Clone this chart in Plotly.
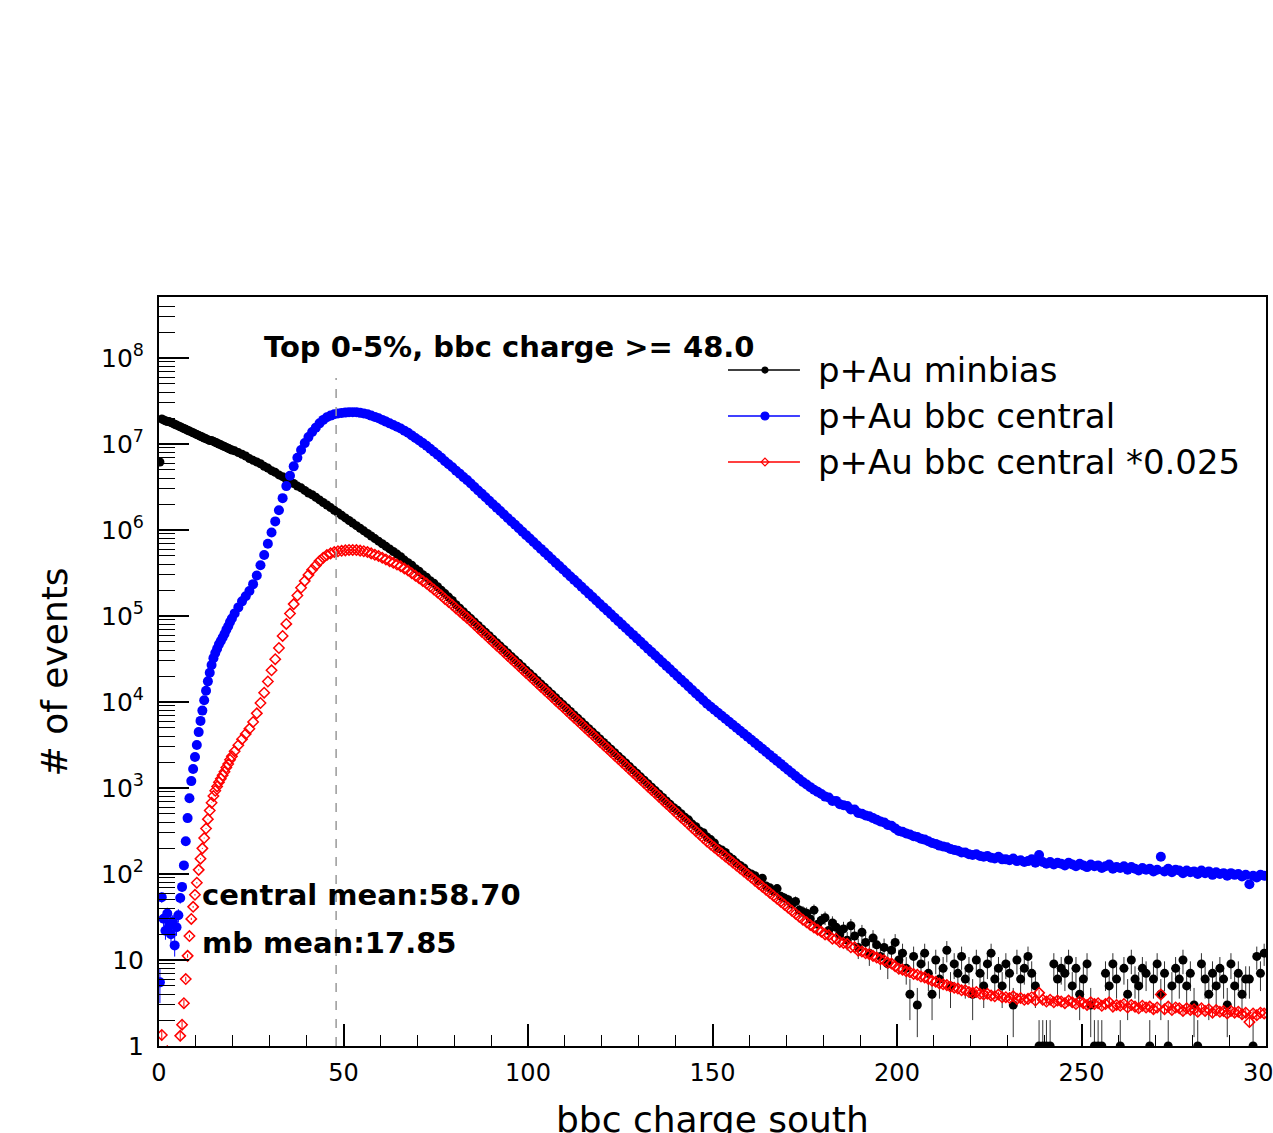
import numpy as np
import plotly.graph_objects as go

# ---------------- data ----------------
# bin centres: 0.5-wide bins below 20, 1-wide bins above
x_fine = np.arange(0.25, 20.0, 0.5)
x_coarse = np.arange(20.5, 300.0, 1.0)
bins = np.concatenate([x_fine, x_coarse])

# p+Au bbc central, log10(# of events) per bin
central_log10 = [
    0.74, 1.73, 1.48, 1.34, 1.54, 1.40, 1.30, 1.45, 1.17, 1.38,
    1.52, 1.72, 1.85, 2.10, 2.38, 2.65, 2.88, 3.08, 3.22, 3.36,
    3.50, 3.65, 3.78, 3.90, 4.02, 4.13, 4.24, 4.34, 4.43, 4.51,
    4.57, 4.62, 4.67, 4.71, 4.75, 4.79, 4.84, 4.88, 4.93, 4.97,
    5.03, 5.10, 5.17, 5.23, 5.29, 5.37, 5.47, 5.59, 5.71, 5.84,
    5.97, 6.10, 6.23, 6.37, 6.51, 6.63, 6.74, 6.84, 6.93, 7.01,
    7.08, 7.14, 7.19, 7.24, 7.28, 7.31, 7.33, 7.345, 7.355, 7.36,
    7.365, 7.37, 7.37, 7.368, 7.362, 7.355, 7.345, 7.33, 7.315, 7.30,
    7.28, 7.26, 7.24, 7.22, 7.20, 7.18, 7.155, 7.13, 7.10, 7.07,
    7.04, 7.01, 6.98, 6.945, 6.91, 6.875, 6.84, 6.80, 6.765, 6.73,
    6.69, 6.655, 6.615, 6.58, 6.54, 6.50, 6.46, 6.42, 6.38, 6.34,
    6.30, 6.26, 6.22, 6.18, 6.14, 6.10, 6.06, 6.02, 5.98, 5.94,
    5.90, 5.86, 5.82, 5.78, 5.74, 5.70, 5.66, 5.62, 5.58, 5.54,
    5.50, 5.46, 5.42, 5.38, 5.34, 5.30, 5.26, 5.22, 5.18, 5.14,
    5.10, 5.06, 5.02, 4.98, 4.94, 4.90, 4.86, 4.82, 4.78, 4.74,
    4.70, 4.66, 4.62, 4.58, 4.54, 4.50, 4.46, 4.42, 4.38, 4.34,
    4.30, 4.26, 4.22, 4.18, 4.14, 4.10, 4.06, 4.02, 3.98, 3.945,
    3.91, 3.875, 3.84, 3.805, 3.77, 3.735, 3.70, 3.665, 3.63, 3.595,
    3.56, 3.525, 3.49, 3.455, 3.42, 3.385, 3.35, 3.315, 3.28, 3.245,
    3.21, 3.175, 3.14, 3.105, 3.07, 3.04, 3.01, 2.98, 2.955, 2.93,
    2.90, 2.89, 2.85, 2.85, 2.81, 2.80, 2.79, 2.75, 2.75, 2.71,
    2.70, 2.68, 2.67, 2.65, 2.63, 2.61, 2.60, 2.57, 2.56, 2.53,
    2.50, 2.49, 2.47, 2.46, 2.44, 2.43, 2.41, 2.40, 2.38, 2.36,
    2.35, 2.33, 2.32, 2.31, 2.29, 2.28, 2.27, 2.25, 2.25, 2.23,
    2.22, 2.23, 2.21, 2.20, 2.21, 2.19, 2.18, 2.20, 2.17, 2.17,
    2.16, 2.18, 2.15, 2.16, 2.14, 2.15, 2.17, 2.13, 2.22, 2.14,
    2.12, 2.14, 2.11, 2.13, 2.12, 2.10, 2.13, 2.11, 2.09, 2.12,
    2.10, 2.08, 2.11, 2.09, 2.10, 2.07, 2.09, 2.11, 2.06, 2.08,
    2.07, 2.09, 2.05, 2.08, 2.06, 2.04, 2.07, 2.05, 2.06, 2.03,
    2.05, 2.20, 2.03, 2.06, 2.02, 2.05, 2.04, 2.01, 2.04, 2.02,
    2.03, 2.00, 2.04, 2.01, 2.03, 1.99, 2.02, 2.00, 2.01, 1.98,
    2.01, 1.99, 2.00, 1.97, 1.99, 1.88, 1.98, 1.96, 1.99, 1.98,
]

# p+Au minbias, log10(# of events) for bins 0.25 ... 174.5
minbias_log10_head = [
    6.79, 7.29, 7.28, 7.27, 7.26, 7.26, 7.25, 7.24, 7.23, 7.22,
    7.21, 7.20, 7.19, 7.18, 7.17, 7.16, 7.15, 7.14, 7.13, 7.12,
    7.11, 7.10, 7.09, 7.08, 7.07, 7.06, 7.05, 7.04, 7.04, 7.03,
    7.02, 7.01, 7.00, 6.99, 6.98, 6.97, 6.96, 6.95, 6.94, 6.93,
    6.92, 6.90, 6.88, 6.86, 6.83, 6.81, 6.79, 6.77, 6.74, 6.72,
    6.69, 6.67, 6.64, 6.62, 6.59, 6.56, 6.54, 6.51, 6.49, 6.46,
    6.43, 6.41, 6.38, 6.35, 6.32, 6.29, 6.26, 6.23, 6.20, 6.17,
    6.14, 6.11, 6.08, 6.05, 6.02, 5.99, 5.96, 5.93, 5.90, 5.87,
    5.84, 5.81, 5.78, 5.75, 5.72, 5.69, 5.65, 5.62, 5.59, 5.55,
    5.52, 5.48, 5.45, 5.41, 5.38, 5.34, 5.30, 5.26, 5.22, 5.18,
    5.13, 5.09, 5.05, 5.01, 4.97, 4.93, 4.89, 4.85, 4.81, 4.77,
    4.73, 4.69, 4.65, 4.61, 4.57, 4.53, 4.49, 4.45, 4.41, 4.37,
    4.33, 4.29, 4.25, 4.21, 4.17, 4.13, 4.09, 4.05, 4.01, 3.97,
    3.93, 3.89, 3.85, 3.81, 3.77, 3.73, 3.69, 3.65, 3.61, 3.57,
    3.53, 3.49, 3.45, 3.41, 3.37, 3.33, 3.29, 3.25, 3.21, 3.17,
    3.13, 3.09, 3.05, 3.01, 2.97, 2.93, 2.89, 2.85, 2.81, 2.77,
    2.74, 2.70, 2.66, 2.63, 2.58, 2.55, 2.50, 2.48, 2.43, 2.40,
    2.36, 2.30, 2.28, 2.25, 2.20, 2.17, 2.13, 2.10, 2.07, 2.02,
    2.00, 1.98, 1.92, 1.95, 1.86, 1.84, 1.80, 1.83, 1.74, 1.72,
    1.70, 1.65, 1.68, 1.58, 1.56,
]

# p+Au minbias, raw counts for bins 175.5 ... 299.5
minbias_tail_counts = [
    35, 30, 38, 26, 29, 31, 22, 27, 24, 20,
    23, 17, 25, 19, 14, 21, 16, 12, 18, 15,
    11, 14, 9, 13, 16, 10, 12, 8, 4, 11,
    3, 9, 12, 7, 4, 10, 6, 8, 13, 5,
    9, 7, 11, 6, 8, 4, 10, 7, 5, 9,
    12, 6, 8, 5, 9, 7, 3, 10, 6, 8,
    11, 7, 5, 1, 1, 1, 1, 9, 6, 8,
    7, 10, 5, 8, 4, 6, 9, 3, 1, 1,
    1, 7, 5, 9, 6, 1, 8, 4, 10, 6,
    5, 8, 7, 1, 6, 9, 4, 7, 1, 5,
    8, 6, 10, 5, 7, 3, 1, 9, 6, 4,
    7, 5, 8, 6, 3, 9, 5, 7, 4, 6,
    6, 1, 11, 7, 12,
]

central_scale = 0.025
cut_value = 48.0

y_tick_exponents = [0, 1, 2, 3, 4, 5, 6, 7, 8]
x_tick_values = [0, 50, 100, 150, 200, 250, 300]

legend_labels = ["p+Au minbias", "p+Au bbc central", "p+Au bbc central *0.025"]

# ---------------- derived arrays ----------------
central = 10 ** np.array(central_log10)
minbias = np.concatenate([10 ** np.array(minbias_log10_head),
                          np.array(minbias_tail_counts, dtype=float)])
scaled = central * central_scale

mb_err = np.sqrt(minbias)
ce_err = np.sqrt(central)
sc_err = ce_err * central_scale


def minus(v, e):
    return np.minimum(e, v * 0.999)


FONT = "DejaVu Sans"
fig = go.Figure()

fig.add_trace(go.Scatter(
    x=bins, y=minbias, mode="markers",
    marker=dict(symbol="circle", size=9, color="black"),
    error_y=dict(type="data", array=mb_err, arrayminus=minus(minbias, mb_err),
                 symmetric=False, thickness=1, width=0, color="#333333"),
    showlegend=False))

fig.add_trace(go.Scatter(
    x=bins, y=central, mode="markers",
    marker=dict(symbol="circle", size=10, color="#0000ff"),
    error_y=dict(type="data", array=ce_err, arrayminus=minus(central, ce_err),
                 symmetric=False, thickness=1, width=0, color="#0000ff"),
    showlegend=False))

fig.add_trace(go.Scatter(
    x=bins, y=scaled, mode="markers",
    marker=dict(symbol="diamond-open", size=8, color="#ff0000",
                line=dict(width=1.5, color="#ff0000")),
    error_y=dict(type="data", array=sc_err, arrayminus=minus(scaled, sc_err),
                 symmetric=False, thickness=1, width=0, color="#ff0000"),
    showlegend=False))

# ---------------- hand-made ROOT-like legend ----------------
leg_colors = ["black", "#0000ff", "#ff0000"]
leg_symbols = ["circle", "circle", "diamond-open"]
leg_sizes = [6, 8, 6]
leg_y = [0.9025, 0.8411, 0.7797]
lx0, lxm, lx1, ltext = 0.514, 0.5474, 0.579, 0.5935
for lab, c, s, sz, yy in zip(legend_labels, leg_colors, leg_symbols, leg_sizes, leg_y):
    fig.add_trace(go.Scatter(
        x=[lx0, lx1], y=[yy, yy], xaxis="x2", yaxis="y2", mode="lines",
        line=dict(color=c, width=1.5), showlegend=False, hoverinfo="skip"))
    fig.add_trace(go.Scatter(
        x=[lxm], y=[yy], xaxis="x2", yaxis="y2", mode="markers",
        marker=dict(symbol=s, size=sz, color=c, line=dict(width=1.2, color=c)),
        showlegend=False, hoverinfo="skip"))
    fig.add_annotation(x=ltext, y=yy, xref="paper", yref="paper", text=lab,
                       showarrow=False, xanchor="left", yanchor="middle",
                       font=dict(family=FONT, size=34, color="black"))

# ---------------- text ----------------
fig.add_annotation(x=0.093, y=0.9333, xref="paper", yref="paper",
                   text="<b>Top 0-5%, bbc charge &gt;= 48.0</b>", showarrow=False,
                   xanchor="left", yanchor="middle",
                   font=dict(family=FONT, size=29, color="black"))
fig.add_annotation(x=0.037, y=0.2016, xref="paper", yref="paper",
                   text="<b>central mean:58.70</b>", showarrow=False,
                   xanchor="left", yanchor="middle",
                   font=dict(family=FONT, size=29, color="black"))
fig.add_annotation(x=0.037, y=0.1375, xref="paper", yref="paper",
                   text="<b>mb mean:17.85</b>", showarrow=False,
                   xanchor="left", yanchor="middle",
                   font=dict(family=FONT, size=29, color="black"))
# axis titles
fig.add_annotation(x=0.5, y=-0.098, xref="paper", yref="paper",
                   text="bbc charge south", showarrow=False,
                   xanchor="center", yanchor="middle",
                   font=dict(family=FONT, size=36, color="black"))
fig.add_annotation(x=-0.094, y=0.5, xref="paper", yref="paper",
                   text="# of events", showarrow=False, textangle=-90,
                   xanchor="center", yanchor="middle",
                   font=dict(family=FONT, size=36, color="black"))

# dashed cut line
fig.add_shape(type="line", xref="x", yref="paper", x0=cut_value, x1=cut_value,
              y0=0, y1=0.892, line=dict(color="#999999", width=1.5, dash="dash"))

y_minor = [k * 10 ** n for n in range(0, 9) for k in range(2, 10) if k * 10 ** n < 5.2e8]

fig.update_layout(
    width=1273, height=1133,
    margin=dict(l=159, r=7, t=297, b=87, autoexpand=False),
    paper_bgcolor="white", plot_bgcolor="white",
    font=dict(family=FONT, color="black"),
    showlegend=False,
    xaxis=dict(
        range=[0, 300], showgrid=False, zeroline=False, automargin=False,
        showline=True, linecolor="black", linewidth=2, mirror=True,
        tickmode="array", tickvals=x_tick_values,
        ticktext=[str(v) for v in x_tick_values],
        ticks="inside", ticklen=22, tickwidth=1.5, tickcolor="black",
        minor=dict(ticks="inside", ticklen=11, tickwidth=1, tickcolor="black", dtick=10),
        tickfont=dict(family=FONT, size=24, color="black"),
        ticklabelstandoff=4, ticklabeloverflow="allow",
    ),
    yaxis=dict(
        type="log", range=[0, 8.709], showgrid=False, zeroline=False, automargin=False,
        showline=True, linecolor="black", linewidth=2, mirror=True,
        tickmode="array", tickvals=[10 ** e for e in y_tick_exponents],
        ticktext=["1" if e == 0 else ("10" if e == 1 else "10<sup>%d</sup>" % e)
                  for e in y_tick_exponents],
        ticks="inside", ticklen=30, tickwidth=1.5, tickcolor="black",
        minor=dict(ticks="inside", ticklen=16, tickwidth=1, tickcolor="black",
                   tickmode="array", tickvals=y_minor),
        tickfont=dict(family=FONT, size=25, color="black"),
        ticklabelstandoff=8,
    ),
    xaxis2=dict(overlaying="x", range=[0, 1], visible=False),
    yaxis2=dict(overlaying="y", range=[0, 1], visible=False),
)

fig.write_html("out.html")
